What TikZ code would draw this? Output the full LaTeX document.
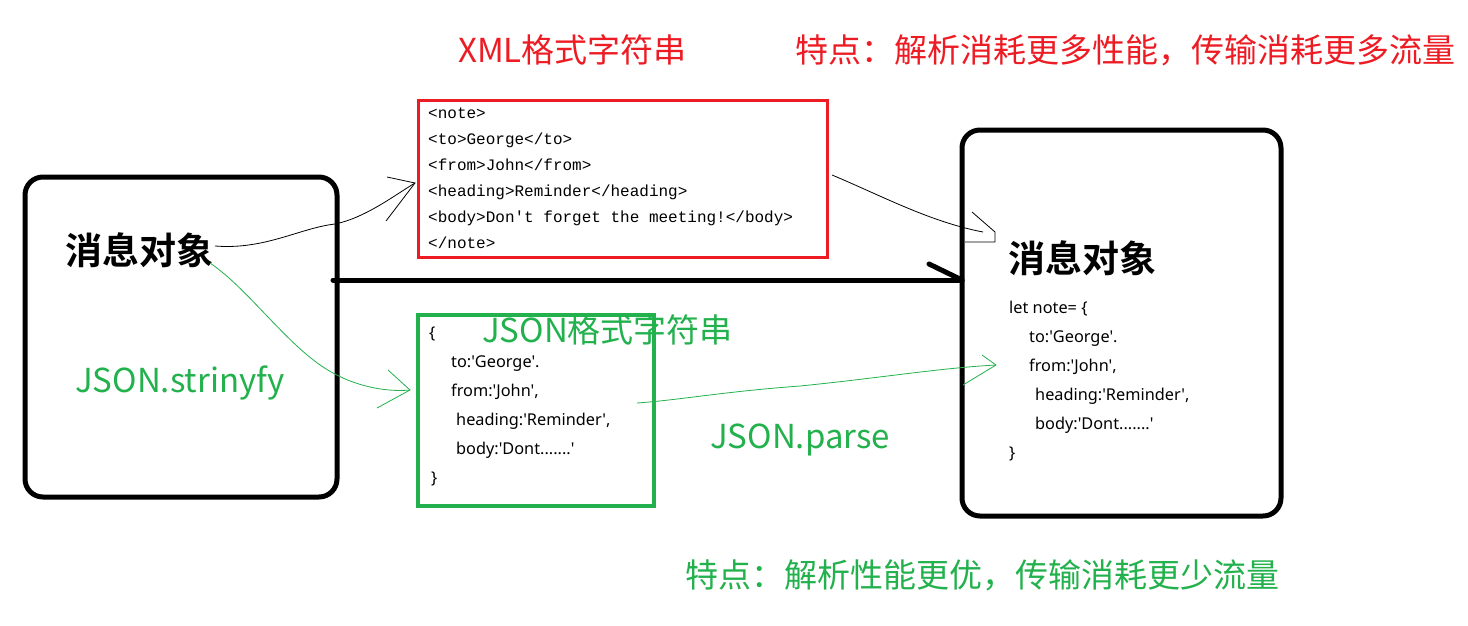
\documentclass[tikz,border=0pt]{standalone}
\usepackage{fontspec}
\setmainfont{Noto Sans CJK SC}[BoldFont={Noto Sans CJK SC Bold}]
\newfontfamily\codefont{Liberation Mono}
\newfontfamily\jfont{Noto Sans}
\definecolor{pgreen}{RGB}{34,177,76}
\definecolor{pred}{RGB}{237,28,36}
\tikzset{
  txt/.style={inner sep=0pt, anchor=base west},
  big/.style={txt, font=\fontsize{33}{40}\selectfont},
  head/.style={txt, font=\bfseries\fontsize{37}{44}\selectfont},
  xmlcode/.style={txt, font=\codefont\fontsize{16}{20}\selectfont},
  jcode/.style={txt, font=\jfont\fontsize{16.3}{20}\selectfont},
  objbox/.style={draw=black, line width=5pt, rounded corners=18pt, inner sep=0pt},
  hand/.style={line width=0.8pt},
  handg/.style={line width=0.8pt, draw=pgreen},
}
\begin{document}
\begin{tikzpicture}[x=1pt,y=-1pt]
\useasboundingbox[fill=white] (0,0) rectangle (1468,626);
% boxes
\node[objbox, minimum width=312pt, minimum height=320pt] (lbox) at (181,337) {};
\node[objbox, minimum width=319pt, minimum height=386pt] (rbox) at (1121.5,323) {};
\node[draw=pred, line width=3pt, minimum width=409pt, minimum height=157pt, inner sep=0pt] (xbox) at (623,179) {};
\node[draw=pgreen, line width=4pt, minimum width=236pt, minimum height=191pt, inner sep=0pt] (jbox) at (536,410.5) {};
% titles
\node[big, text=pred] (xt) at (458,63) {XML格式字符串};
\node[big, text=pred] (xf) at (795,63) {特点：解析消耗更多性能，传输消耗更多流量};
\node[big, text=pgreen] (jt) at (482,342) {JSON格式字符串};
\node[big, text=pgreen] (jsf) at (75,392) {JSON.strinyfy};
\node[big, text=pgreen] (jp) at (710,448) {JSON.parse};
\node[big, text=pgreen] (jf) at (685,587) {特点：解析性能更优，传输消耗更少流量};
% message objects
\node[head] (lmsg) at (65,264.5) {消息对象};
\node[head] (rmsg) at (1008,272.5) {消息对象};
% xml code
\node[xmlcode] (x1) at (428,118) {<note>};
\node[xmlcode] (x2) at (428,144) {<to>George</to>};
\node[xmlcode] (x3) at (428,170) {<from>John</from>};
\node[xmlcode] (x4) at (428,196) {<heading>Reminder</heading>};
\node[xmlcode] (x5) at (428,222) {<body>Don't forget the meeting!</body>};
\node[xmlcode] (x6) at (428,248) {</note>};
% json code
\node[jcode] (j1) at (429,338) {\{};
\node[jcode] (j2) at (451,367) {to:'George'.};
\node[jcode] (j3) at (451,396) {from:'John',};
\node[jcode] (j4) at (456,425) {heading:'Reminder',};
\node[jcode] (j5) at (456,454) {body:'Dont.......'};
\node[jcode] (j6) at (431,483) {\}};
% object code
\node[jcode] (r1) at (1009,313) {let note= \{};
\node[jcode] (r2) at (1029,342) {to:'George'.};
\node[jcode] (r3) at (1029,371) {from:'John',};
\node[jcode] (r4) at (1035,400) {heading:'Reminder',};
\node[jcode] (r5) at (1035,429) {body:'Dont.......'};
\node[jcode] (r6) at (1009,458) {\}};
% connector coordinates
\coordinate (a1s) at (215,246);
\coordinate (a1e) at (415,183);
\coordinate (a1u) at (387,177);
\coordinate (a1d) at (386,221);
\coordinate (a2s) at (832,175);
\coordinate (a2e) at (983,232);
\coordinate (a2h1) at (972,212);
\coordinate (a2h2) at (995,232);
\coordinate (a2h3) at (995,242);
\coordinate (a2h4) at (965,242);
\coordinate (ts) at (333,280);
\coordinate (te) at (962,280);
\coordinate (tb) at (929,264);
\coordinate (g1s) at (210,263);
\coordinate (g1m) at (333,373);
\coordinate (g1e) at (410,390);
\coordinate (g1u) at (388,370);
\coordinate (g1d) at (377,408);
\coordinate (g2s) at (637,403);
\coordinate (g2m) at (800,386);
\coordinate (g2e) at (996,365);
\coordinate (g2u) at (982,355);
\coordinate (g2d) at (963,385);
% black hand arrows
\draw[hand] (a1s) .. controls (265,250) and (300,228) .. (335,224) .. controls (365,218) and (395,195) .. (a1e);
\draw[hand] (a1u) -- (a1e) -- (a1d);
\draw[hand] (a2s) .. controls (880,195) and (930,222) .. (a2e);
\draw[hand] (a2h1) -- (a2h2) -- (a2h3) -- (a2h4);
% thick arrow
\draw[line width=5pt, line cap=round] (ts) -- (te);
\draw[line width=5pt, line cap=round] (tb) -- (te);
% green hand arrows
\draw[handg] (g1s) .. controls (250,290) and (290,350) .. (g1m) .. controls (360,388) and (390,392) .. (g1e);
\draw[handg] (g1u) -- (g1e) -- (g1d);
\draw[handg] (g2s) .. controls (680,400) and (720,392) .. (g2m) .. controls (880,378) and (940,368) .. (g2e);
\draw[handg] (g2u) -- (g2e) -- (g2d);
\end{tikzpicture}
\end{document}
